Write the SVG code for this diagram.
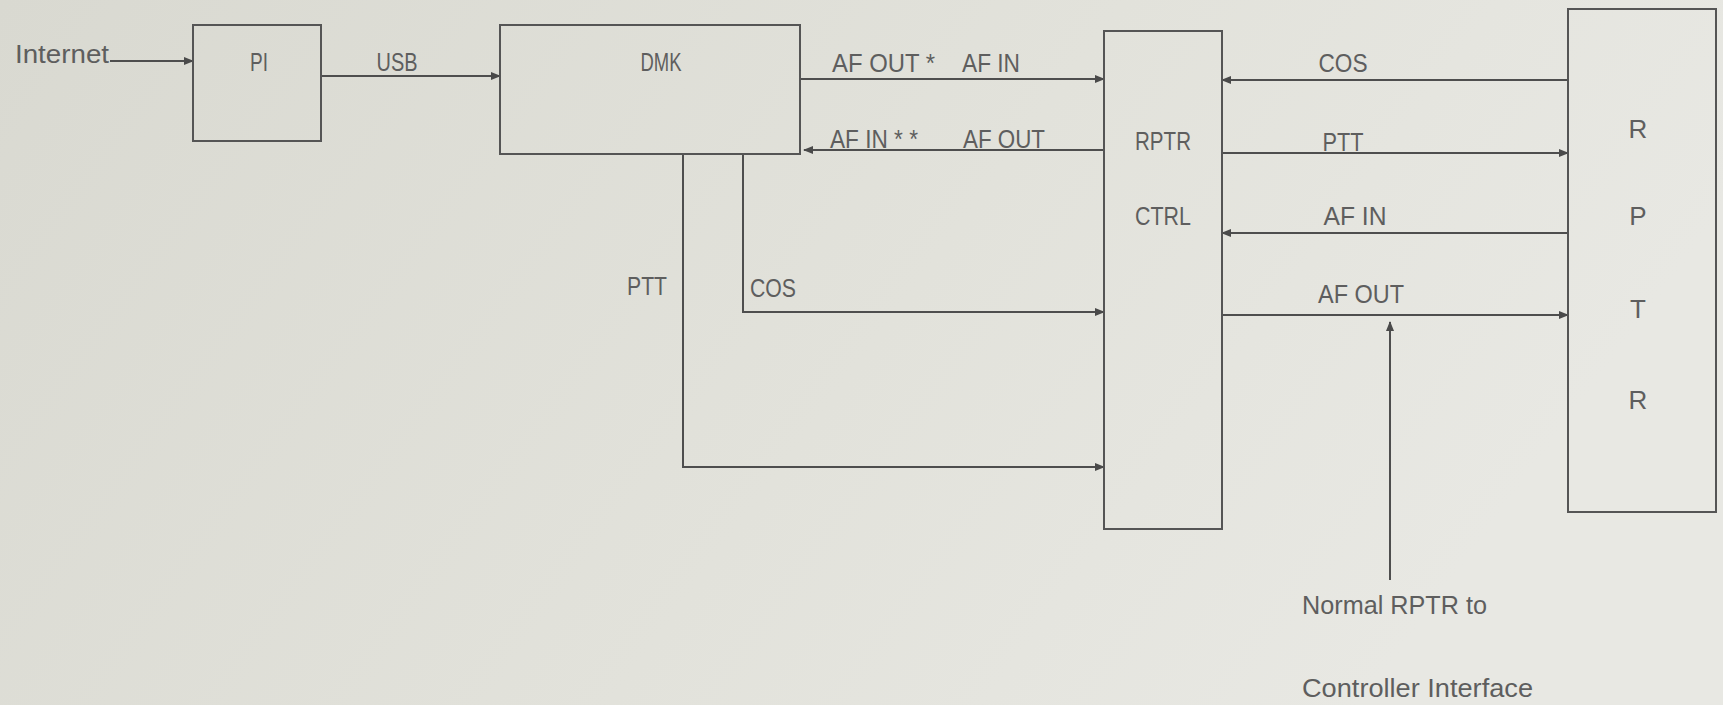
<svg xmlns="http://www.w3.org/2000/svg" width="1723" height="705" viewBox="0 0 1723 705">
<defs>
<linearGradient id="bg" x1="0" y1="0" x2="1" y2="0.3">
<stop offset="0" stop-color="#d9d9d1"/>
<stop offset="0.6" stop-color="#e2e2db"/>
<stop offset="1" stop-color="#e8e8e3"/>
</linearGradient>
<marker id="ah" markerWidth="10" markerHeight="8" refX="9" refY="4" orient="auto" markerUnits="userSpaceOnUse">
<path d="M0,0 L10,4 L0,8 z" fill="#4a4a4a"/>
</marker>
</defs>
<style>
.box{fill:none;stroke:#555;stroke-width:2}
.ln{fill:none;stroke:#4e4e4e;stroke-width:2;marker-end:url(#ah)}
text{font-family:"Liberation Sans",Arial,sans-serif;font-size:26px;fill:#5e5e5e}
.c{text-anchor:middle}
</style>
<rect x="0" y="0" width="1723" height="705" fill="url(#bg)"/>

<g id="connectors">
<line class="ln" x1="110" y1="61" x2="193" y2="61"/>
<line class="ln" x1="321" y1="76" x2="500" y2="76"/>
<line class="ln" x1="800" y1="79" x2="1104" y2="79"/>
<line class="ln" x1="1104" y1="150" x2="804" y2="150"/>
<polyline class="ln" points="743,154 743,312 1104,312"/>
<polyline class="ln" points="683,154 683,467 1104,467"/>
<line class="ln" x1="1568" y1="80" x2="1222" y2="80"/>
<line class="ln" x1="1222" y1="153" x2="1568" y2="153"/>
<line class="ln" x1="1568" y1="233" x2="1222" y2="233"/>
<line class="ln" x1="1222" y1="315" x2="1568" y2="315"/>
<line class="ln" x1="1390" y1="580" x2="1390" y2="322"/>
<text x="15" y="63" textLength="94" lengthAdjust="spacingAndGlyphs">Internet</text>
<text class="c" x="397" y="71" textLength="41" lengthAdjust="spacingAndGlyphs">USB</text>
<text x="832" y="72" textLength="103" lengthAdjust="spacingAndGlyphs">AF OUT *</text>
<text x="962" y="72" textLength="58" lengthAdjust="spacingAndGlyphs">AF IN</text>
<text x="830" y="148" textLength="88" lengthAdjust="spacingAndGlyphs">AF IN * *</text>
<text x="963" y="148" textLength="82" lengthAdjust="spacingAndGlyphs">AF OUT</text>
<text x="627" y="295" textLength="40" lengthAdjust="spacingAndGlyphs">PTT</text>
<text x="750" y="297" textLength="46" lengthAdjust="spacingAndGlyphs">COS</text>
<text class="c" x="1343" y="72" textLength="49" lengthAdjust="spacingAndGlyphs">COS</text>
<text class="c" x="1343" y="151" textLength="41" lengthAdjust="spacingAndGlyphs">PTT</text>
<text class="c" x="1355" y="225" textLength="63" lengthAdjust="spacingAndGlyphs">AF IN</text>
<text class="c" x="1361" y="303" textLength="86" lengthAdjust="spacingAndGlyphs">AF OUT</text>
<text x="1302" y="614" textLength="185" lengthAdjust="spacingAndGlyphs">Normal RPTR to</text>
<text x="1302" y="697" textLength="231" lengthAdjust="spacingAndGlyphs">Controller Interface</text>
</g>

<g id="pi">
<rect class="box" x="193" y="25" width="128" height="116"/>
<text class="c" x="259" y="71" textLength="18" lengthAdjust="spacingAndGlyphs">PI</text>
</g>
<g id="dmk">
<rect class="box" x="500" y="25" width="300" height="129"/>
<text class="c" x="661" y="71" textLength="41" lengthAdjust="spacingAndGlyphs">DMK</text>
</g>
<g id="rptr-ctrl">
<rect class="box" x="1104" y="31" width="118" height="498"/>
<text class="c" x="1163" y="150" textLength="56" lengthAdjust="spacingAndGlyphs">RPTR</text>
<text class="c" x="1163" y="225" textLength="56" lengthAdjust="spacingAndGlyphs">CTRL</text>
</g>
<g id="rptr">
<rect class="box" x="1568" y="9" width="148" height="503"/>
<text class="c" x="1638" y="138">R</text>
<text class="c" x="1638" y="225">P</text>
<text class="c" x="1638" y="318">T</text>
<text class="c" x="1638" y="409">R</text>
</g>
</svg>
